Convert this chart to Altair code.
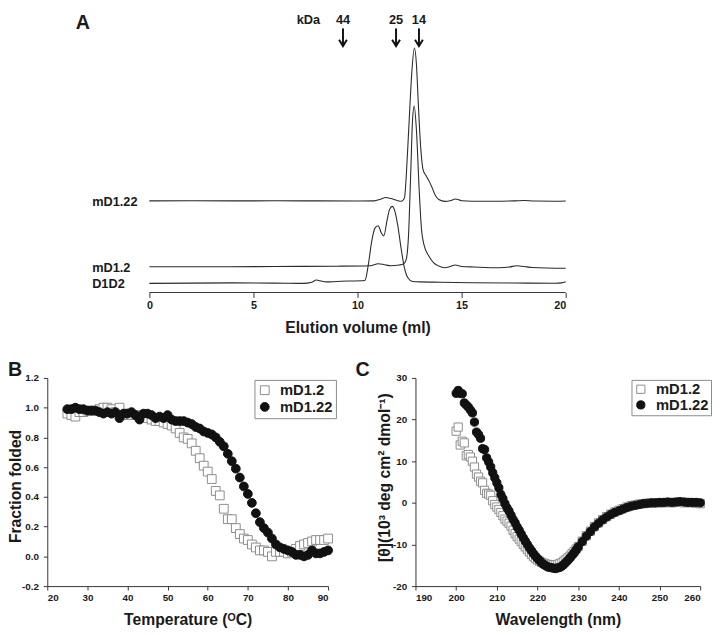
import altair as alt
import pandas as pd

FONT = "Liberation Sans"
INK = "#1a1a1a"
AXC = "#333333"

# ---------------- Panel A : size-exclusion traces ----------------
a_vol_mD122 = [0, 2, 4, 6, 8, 10, 10.8, 11.1, 11.35, 11.6, 11.9, 12.1, 12.25, 12.4, 12.52, 12.61,
               12.73, 12.83, 12.92, 13.03, 13.15, 13.3, 13.43, 13.58, 13.74, 13.9, 14.2, 14.45,
               14.7, 15.0, 15.5, 16.5, 17.5, 18.0, 18.5, 19.5, 20]
a_sig_mD122 = [93.3, 93.5, 93.3, 93.4, 93.3, 93.2, 93.3, 95.0, 96.7, 95.7, 93.8, 93.0, 96.0, 142,
               192, 225, 249, 232, 192, 149, 125, 118.7, 113.7, 107, 98.7, 94.7, 92.8, 93.5,
               95.3, 93.5, 93.0, 93.0, 93.3, 93.8, 93.2, 93.0, 93.2]

a_vol_mD12 = [0, 3, 6, 9, 10.6, 11.0, 11.3, 11.6, 12.0, 12.2, 12.33, 12.45, 12.56, 12.64, 12.72,
              12.83, 12.96, 13.07, 13.19, 13.43, 13.66, 13.9, 14.2, 14.45, 14.7, 15.0, 15.6, 16.8,
              17.3, 17.66, 18.0, 18.4, 20]
a_sig_mD12 = [26.3, 26.2, 26.5, 26.8, 27.3, 29.3, 28.3, 27.3, 28.0, 29.0, 33, 58.7, 125, 175, 190,
              165, 105, 65, 48.7, 37, 30.3, 27, 25.3, 26.5, 28.0, 26.5, 26.0, 25.3, 26.0, 27.3,
              26.5, 25.5, 24.7]

a_vol_D1D2 = [0, 2, 4, 6, 7.4, 7.8, 8.02, 8.2, 8.5, 9.0, 9.6, 10.2, 10.36, 10.52, 10.68, 10.83,
              10.99, 11.15, 11.26, 11.42, 11.54, 11.67, 11.78, 11.93, 12.09, 12.25, 12.41, 12.64,
              13.0, 14.0, 15.5, 17.5, 19.5, 19.8, 20]
a_sig_D1D2 = [9.3, 9.6, 9.8, 9.6, 9.3, 10.5, 12.7, 12.0, 10.8, 11.2, 11.7, 11.9, 12.5, 28.7, 52,
              65.3, 68, 60.3, 57.7, 73.7, 84.7, 87.7, 83.7, 68.7, 45.3, 25.3, 15.3, 11.3, 10.8,
              10.5, 10.0, 9.7, 9.4, 9.8, 11.0]

a_names = ["mD1.22", "mD1.2", "D1D2"]
a_marker_labels = ["44", "25", "14"]
a_marker_vol = [9.3, 11.85, 12.95]
a_unit = "kDa"
a_ticks = [0, 5, 10, 15, 20]

# ---------------- Panel B : thermal unfolding ----------------
b_temp = [25, 26, 27, 28, 29, 30, 31, 32, 33, 34, 35, 36, 37, 38, 39, 40, 41, 42, 43, 44,
          45, 46, 47, 48, 49, 50, 51, 52, 53, 54, 55, 56, 57, 58, 59, 60, 61, 62, 63, 64,
          65, 66, 67, 68, 69, 70, 71, 72, 73, 74, 75, 76, 77, 78, 79, 80, 81, 82, 83, 84,
          85, 86, 87, 88, 89, 90]
b_mD12 = [0.96, 0.95, 0.94, 0.97, 0.97, 0.98, 0.98, 0.98, 0.99, 1.00,
          1.00, 0.99, 0.97, 1.00, 0.95, 0.96, 0.95, 0.95, 0.94, 0.95,
          0.93, 0.92, 0.91, 0.91, 0.90, 0.89, 0.88, 0.86, 0.83, 0.80,
          0.79, 0.76, 0.71, 0.66, 0.61, 0.57, 0.52, 0.44, 0.41, 0.32,
          0.25, 0.25, 0.19, 0.15, 0.12, 0.11, 0.08, 0.06, 0.04, 0.04,
          0.03, 0.00, 0.03, 0.03, 0.03, 0.02, 0.03, 0.05, 0.07, 0.08,
          0.09, 0.10, 0.11, 0.11, 0.11, 0.12]
b_mD122 = [0.99, 0.99, 1.00, 0.99, 0.99, 0.98, 0.98, 0.98, 0.97, 0.96,
           0.97, 0.96, 0.97, 0.93, 0.96, 0.96, 0.97, 0.95, 0.92, 0.96,
           0.96, 0.95, 0.93, 0.94, 0.93, 0.95, 0.92, 0.91, 0.91, 0.91,
           0.90, 0.89, 0.87, 0.86, 0.84, 0.83, 0.82, 0.80, 0.77, 0.74,
           0.69, 0.64, 0.59, 0.53, 0.47, 0.42, 0.36, 0.29, 0.23, 0.19,
           0.16, 0.12, 0.08, 0.06, 0.05, 0.04, 0.03, 0.01, 0.01, 0.00,
           0.01, 0.04, 0.02, 0.02, 0.03, 0.04]
b_xticks = [20, 30, 40, 50, 60, 70, 80, 90]
b_yticks = [-0.2, 0.0, 0.2, 0.4, 0.6, 0.8, 1.0, 1.2]

# ---------------- Panel C : far-UV CD spectra ----------------
c_wl = [200, 200.5, 201, 201.5, 202, 202.5, 203, 203.5, 204, 204.5,
        205, 205.5, 206, 206.5, 207, 207.5, 208, 208.5, 209, 209.5,
        210, 210.5, 211, 211.5, 212, 212.5, 213, 213.5, 214, 214.5,
        215, 215.5, 216, 216.5, 217, 217.5, 218, 218.5, 219, 219.5,
        220, 220.5, 221, 221.5, 222, 222.5, 223, 223.5, 224, 224.5,
        225, 225.5, 226, 226.5, 227, 227.5, 228, 228.5, 229, 229.5,
        230,
        231, 232, 233, 234, 235, 236, 237, 238, 239, 240,
        241, 242, 243, 244, 245, 246, 247, 248, 249, 250,
        251, 252, 253, 254, 255, 256, 257, 258, 259, 260]
c_mD122 = [26.3, 27.0, 26.3, 26.2, 24.0, 23.5, 23.0, 22.3, 21.6, 19.4,
           17.0, 16.4, 15.5, 13.0, 12.8, 10.8, 9.8, 8.6, 7.2, 6.0,
           4.8, 3.6, 2.0, 1.0, -0.2, -1.2, -2.0, -3.0, -4.0, -4.8,
           -5.8, -6.6, -7.5, -8.4, -9.2, -10.0, -10.8, -11.5, -12.2, -12.8,
           -13.4, -13.9, -14.4, -14.8, -15.1, -15.4, -15.5, -15.6, -15.7, -15.8,
           -15.6, -15.5, -15.2, -14.8, -14.3, -13.8, -13.2, -12.6, -12.0, -11.3,
           -10.6,
           -9.3, -8.0, -6.9, -5.8, -4.9, -4.1, -3.4, -2.8, -2.3, -1.9,
           -1.5, -1.1, -0.8, -0.6, -0.4, -0.2, -0.1, 0.0, 0.0, 0.1,
           0.1, 0.2, 0.1, 0.2, 0.3, 0.2, 0.1, 0.1, 0.1, 0.0]
c_mD12 = [17.2, 18.2, 13.9, 14.8, 14.4, 11.3, 11.6, 11.0, 10.0, 8.6,
          6.9, 6.2, 5.2, 4.8, 3.0, 2.3, 2.1, 1.8, 0.5, -0.4,
          -1.0, -1.6, -2.3, -3.1, -3.9, -4.4, -4.9, -5.6, -6.6, -7.4,
          -8.1, -8.7, -9.3, -10.0, -10.6, -11.2, -11.8, -12.4, -12.9, -13.3,
          -13.7, -14.0, -14.3, -14.5, -14.7, -14.8, -14.9, -14.9, -14.9, -14.9,
          -14.8, -14.6, -14.4, -14.0, -13.6, -13.2, -12.8, -12.2, -11.7, -11.1,
          -10.5,
          -9.2, -7.9, -6.8, -5.7, -4.8, -4.0, -3.3, -2.7, -2.2, -1.8,
          -1.4, -1.0, -0.7, -0.5, -0.3, -0.2, -0.1, -0.1, 0.0, 0.0,
          0.0, 0.1, 0.0, 0.1, 0.1, 0.0, 0.1, 0.0, -0.1, -0.2]
c_xticks = [190, 200, 210, 220, 230, 240, 250, 260]
c_yticks = [-20, -10, 0, 10, 20, 30]

series = ["mD1.2", "mD1.22"]

# ================= build panel A =================
tracesA = pd.concat([
    pd.DataFrame({"vol": a_vol_mD122, "sig": a_sig_mD122, "sample": a_names[0]}),
    pd.DataFrame({"vol": a_vol_mD12, "sig": a_sig_mD12, "sample": a_names[1]}),
    pd.DataFrame({"vol": a_vol_D1D2, "sig": a_sig_D1D2, "sample": a_names[2]}),
], ignore_index=True)
labelsA = pd.DataFrame({"name": a_names,
                        "sig": [a_sig_mD122[0], a_sig_mD12[0], a_sig_D1D2[0]]})
markersA = pd.DataFrame({"vol": a_marker_vol, "label": a_marker_labels})
axisA = pd.DataFrame({"x": [a_ticks[0]], "x2": [a_ticks[-1]]})
unitA = pd.DataFrame({"label": [a_unit]})

xA_scale = alt.Scale(domain=[-4.906, 20], nice=False, zero=False)
yA_scale = alt.Scale(domain=[0, 284], nice=False, zero=False)

linesA = alt.Chart(tracesA).mark_line(color="#2a2a2a", strokeWidth=1.1, interpolate="monotone").encode(
    x=alt.X("vol:Q", scale=xA_scale,
            axis=alt.Axis(values=a_ticks, domain=False, tickSize=5, labelFontSize=11, labelPadding=2,
                          format="d", title="Elution volume (ml)", titleX=316, titleY=36,
                          titleBaseline="middle", titleAlign="center")),
    y=alt.Y("sig:Q", scale=yA_scale, axis=None),
    detail="sample:N",
)
baseA = alt.Chart(axisA).mark_rule(color=AXC, strokeWidth=1).encode(
    x=alt.X("x:Q", scale=xA_scale), x2="x2:Q", y=alt.datum(0)
)
shaftA = alt.Chart(markersA).mark_rule(color="#111111", strokeWidth=2).encode(
    x=alt.X("vol:Q", scale=xA_scale), y=alt.datum(269), y2=alt.datum(252)
)
headA = alt.Chart(markersA).mark_point(shape="M-1,-1.6L0,0L1,-1.6", size=64, filled=False,
                                         strokeWidth=2, color="#111111", opacity=1).encode(
    x=alt.X("vol:Q", scale=xA_scale), y=alt.datum(251)
)
mlabA = alt.Chart(markersA).mark_text(font=FONT, fontSize=13, fontWeight="bold", color=INK,
                                       baseline="middle").encode(
    x=alt.X("vol:Q", scale=xA_scale), y=alt.datum(277), text="label:N"
)
unitTxt = alt.Chart(unitA).mark_text(font=FONT, fontSize=13, fontWeight="bold", color=INK,
                                      baseline="middle").encode(
    x=alt.datum(7.64), y=alt.datum(277), text="label:N"
)
nameA = alt.Chart(labelsA).mark_text(font=FONT, fontSize=13, fontWeight="bold", color=INK,
                                      align="left", baseline="middle", dy=1).encode(
    x=alt.datum(-2.75), y=alt.Y("sig:Q", scale=yA_scale), text="name:N"
)

panelA = alt.layer(linesA, baseA, shaftA, headA, mlabA, unitTxt, nameA).properties(
    width=528, height=284,
    title=alt.TitleParams("A", anchor="start", frame="group", dx=29, offset=-36,
                          fontSize=20, font=FONT, fontWeight="bold", color=INK, baseline="alphabetic"),
)

# ================= legends / shared encodings =================
def series_enc(legend):
    return dict(
        color=alt.Color("series:N", scale=alt.Scale(domain=series, range=["#8c8c8c", "#111111"]), legend=legend),
        shape=alt.Shape("series:N", scale=alt.Scale(domain=series, range=["square", "circle"]), legend=legend),
        fill=alt.Fill("series:N", scale=alt.Scale(domain=series, range=["white", "#111111"]), legend=legend),
    )

neg_fmt = lambda f: f"datum.value < 0 ? '-' + format(-datum.value, '{f}') : format(datum.value, '{f}')"

# ================= panel B =================
dfB = pd.DataFrame({"T": b_temp + b_temp, "F": b_mD12 + b_mD122,
                    "series": [series[0]] * len(b_temp) + [series[1]] * len(b_temp)})
legB = alt.Legend(title=None, orient="none", legendX=211, legendY=2, padding=3, labelOffset=8,
                  rowPadding=1, symbolSize=80, symbolStrokeWidth=1, strokeColor="#8a8a8a",
                  fillColor="white", labelFontSize=15, labelFont=FONT, labelFontWeight="bold",
                  labelColor=INK)
panelB = alt.Chart(dfB).mark_point(filled=False, size=80, strokeWidth=1, opacity=1).encode(
    x=alt.X("T:Q", scale=alt.Scale(domain=[20, 90], nice=False, zero=False),
            axis=alt.Axis(values=b_xticks, format="d", title="Temperature (ᴼC)", titleY=34,
                          titleBaseline="middle")),
    y=alt.Y("F:Q", scale=alt.Scale(domain=[-0.2, 1.2], nice=False, zero=False),
            axis=alt.Axis(values=b_yticks, labelExpr=neg_fmt(".1f"), title="Fraction folded",
                          titleX=-32, titleY=110, titleBaseline="middle")),
    **series_enc(legB),
).properties(
    width=286, height=212,
    title=alt.TitleParams("B", anchor="start", frame="group", dx=-40, offset=-23,
                          fontSize=20, font=FONT, fontWeight="bold", color=INK, baseline="alphabetic"),
)

# ================= panel C =================
dfC = pd.DataFrame({"wl": c_wl + c_wl, "theta": c_mD12 + c_mD122,
                    "series": [series[0]] * len(c_wl) + [series[1]] * len(c_wl)})
legC = alt.Legend(title=None, orient="none", legendX=220, legendY=2, padding=2, labelOffset=8,
                  rowPadding=-5, symbolSize=70, symbolStrokeWidth=1, strokeColor="#8a8a8a",
                  fillColor="white", labelFontSize=15, labelFont=FONT, labelFontWeight="bold",
                  labelColor=INK)
panelC = alt.Chart(dfC).mark_point(filled=False, size=70, strokeWidth=1, opacity=1).encode(
    x=alt.X("wl:Q", scale=alt.Scale(domain=[190, 260], nice=False, zero=False),
            axis=alt.Axis(values=c_xticks, format="d", title="Wavelength (nm)", titleY=34,
                          titleBaseline="middle")),
    y=alt.Y("theta:Q", scale=alt.Scale(domain=[-20, 30], nice=False, zero=False),
            axis=alt.Axis(values=c_yticks, labelExpr=neg_fmt("d"),
                          title="[θ](10³ deg cm² dmol⁻¹)", titleX=-31, titleY=101,
                          titleBaseline="middle")),
    **series_enc(legC),
).properties(
    width=290, height=212,
    title=alt.TitleParams("C", anchor="start", frame="group", dx=-61, offset=-23,
                          fontSize=20, font=FONT, fontWeight="bold", color=INK, baseline="alphabetic"),
)

row = alt.hconcat(panelB, panelC, spacing=89, bounds="flush").resolve_scale(
    color="independent", shape="independent", fill="independent"
).resolve_legend(color="independent", shape="independent", fill="independent")
chart = alt.vconcat(panelA, row, spacing=87, bounds="flush").properties(
    padding={"left": 0, "top": 0, "right": 0, "bottom": 0}
).configure_view(stroke=None).configure_axis(
    domainColor=AXC, tickColor=AXC, tickSize=4, grid=False,
    labelFont=FONT, labelFontSize=10, labelFontWeight="bold", labelColor=INK, labelPadding=3,
    titleFont=FONT, titleFontSize=16, titleFontWeight="bold", titleColor=INK,
).configure_axisY(labelPadding=5)

chart.save("out.html", embed_options={"renderer": "svg", "actions": False})
